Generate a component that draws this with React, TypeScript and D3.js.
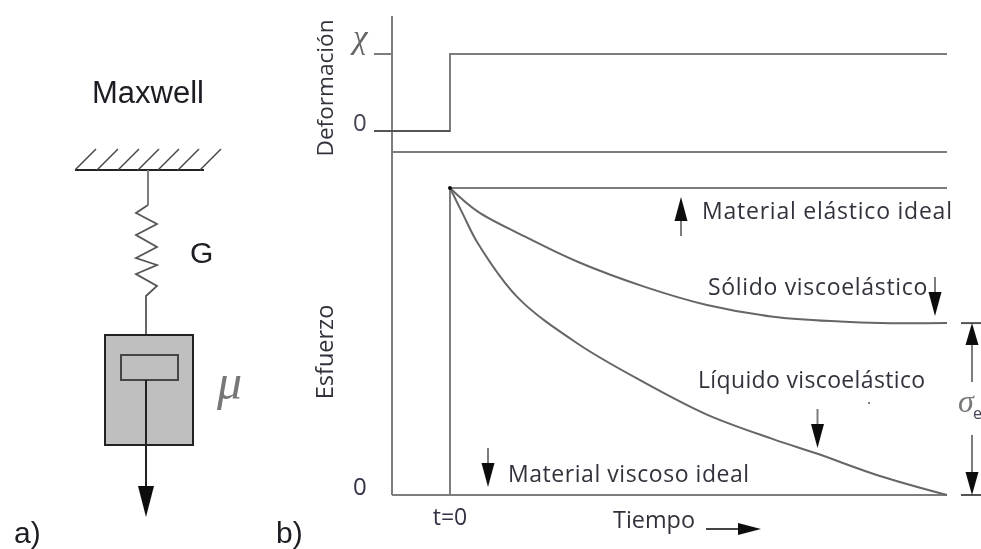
import React from 'react';
import * as d3 from 'd3';

const width = 981;
const height = 549;

// stress curves (time 0..1, stress 0..1)
const solidTime = [0, 0.056, 0.157, 0.258, 0.392, 0.517, 0.65, 0.785, 0.865, 1];
const solidStress = [1, 0.923, 0.837, 0.759, 0.678, 0.619, 0.581, 0.565, 0.56, 0.56];
const liquidTime = [0, 0.026, 0.056, 0.137, 0.258, 0.386, 0.517, 0.65, 0.738, 0.865, 1];
const liquidStress = [1, 0.915, 0.82, 0.642, 0.492, 0.371, 0.262, 0.182, 0.135, 0.062, 0];

// step input
const strainTime = [-0.153, 0, 0, 1];
const strainValue = [0, 0, 1, 1];

const elasticTime = [0, 0, 1];
const elasticStress = [0, 1, 1];

const sigmaE = 0.56;

// Maxwell drawing, in its own units (offset from the rod, distance below the wall)
const springOffset = [0, -12, 9, -12, 9, -12, 9, -12, 9, -2, -2];
const springDrop = [35, 43, 54, 65, 77, 88, 95, 104, 116, 126, 165];
const hatchStart = [-73, -51, -30, -10, 10, 30, 52];

const t = d3.scaleLinear().domain([0, 1]).range([450, 947]);
const strainY = d3.scaleLinear().domain([0, 1]).range([131, 54]);
const stressY = d3.scaleLinear().domain([0, 1]).range([495, 188]);
const dx = d3.scaleLinear().domain([0, 1]).range([148, 149]);
const dy = d3.scaleLinear().domain([0, 1]).range([170, 171]);

const stressLine = d3
  .line<[number, number]>()
  .x(d => t(d[0]))
  .y(d => stressY(d[1]));
const strainLine = d3
  .line<[number, number]>()
  .x(d => t(d[0]))
  .y(d => strainY(d[1]));
const schemeLine = d3
  .line<[number, number]>()
  .x(d => dx(d[0]))
  .y(d => dy(d[1]));

const gray = '#7d7d7d';
const ink = '#33333d';
const uiFont = '"Open Sans", sans-serif';
const armFont = '"Liberation Sans", Arial, sans-serif';
const mathFont = '"Liberation Serif", serif';

// arrow pointing to (x, tipY); dir 1 = down, -1 = up
function VArrow({ x, tipY, dir, head = 24, half = 6.5, tail = 15 }: any) {
  const base = tipY - dir * head;
  return (
    <g>
      <line x1={x} x2={x} y1={base} y2={base - dir * tail} stroke={gray} strokeWidth={2} />
      <path d={`M${x - half},${base}L${x + half},${base}L${x},${tipY}Z`} fill="#111" />
    </g>
  );
}

export default function App() {
  const chartLeft = 392;
  const chartRight = t(1);
  const zeroY = stressY(0);
  const sigmaY = stressY(sigmaE);
  const elasticPts = elasticTime.map((d, i) => [d, elasticStress[i]] as [number, number]);
  const solidPts = solidTime.map((d, i) => [d, solidStress[i]] as [number, number]);
  const liquidPts = liquidTime.map((d, i) => [d, liquidStress[i]] as [number, number]);
  const strainPts = strainTime.map((d, i) => [d, strainValue[i]] as [number, number]);
  const springPts = springOffset.map((d, i) => [d, springDrop[i]] as [number, number]);

  return (
    <svg
      width={width}
      height={height}
      style={{ position: 'absolute', left: 0, top: 0, background: '#fff' }}
    >
      <defs>
        <filter id="soft" x="0" y="0" width="100%" height="100%">
          <feGaussianBlur stdDeviation="0.55" />
        </filter>
      </defs>
      <g filter="url(#soft)">
        {/* a) Maxwell */}
        <text x={92} y={103} fontFamily={armFont} fontSize={31} fill="#1c1c24">Maxwell</text>
        <line x1={dx(-73)} x2={dx(56)} y1={dy(0)} y2={dy(0)} stroke="#222" strokeWidth={2} />
        {hatchStart.map(h => (
          <line key={h} x1={dx(h)} x2={dx(h + 21)} y1={dy(0)} y2={dy(-21)} stroke="#444" strokeWidth={1.5} />
        ))}
        <path d={schemeLine([[0, 0], [0, 35]] as [number, number][]) || ''} fill="none" stroke={gray} strokeWidth={2} />
        <path d={schemeLine(springPts) || ''} fill="none" stroke="#555" strokeWidth={1.8} />
        <text x={190} y={263} fontFamily={armFont} fontSize={30} fill="#1c1c24">G</text>
        <rect x={dx(-43)} y={dy(165)} width={88} height={110} fill="#bfbfbf" stroke="#222" strokeWidth={2} />
        <rect x={dx(-27)} y={dy(185)} width={57} height={25} fill="#bfbfbf" stroke="#444" strokeWidth={2} />
        <line x1={dx(-2)} x2={dx(-2)} y1={dy(210)} y2={dy(320)} stroke="#222" strokeWidth={2} />
        <path d={`M${dx(-10)},${dy(316)}L${dx(6)},${dy(316)}L${dx(-2)},${dy(347)}Z`} fill="#111" />
        <text x={217} y={399} fontFamily={mathFont} fontStyle="italic" fontSize={50} fill="#777">μ</text>
        <text x={14} y={543} fontFamily={armFont} fontSize={30} fill="#1c1c24">a)</text>
        <text x={276} y={543} fontFamily={armFont} fontSize={30} fill="#1c1c24">b)</text>

        {/* b) axes */}
        <line x1={chartLeft} x2={chartLeft} y1={16} y2={zeroY} stroke={gray} strokeWidth={2} />
        <line x1={chartLeft} x2={chartRight} y1={152} y2={152} stroke={gray} strokeWidth={2} />
        <line x1={chartLeft} x2={chartRight} y1={zeroY} y2={zeroY} stroke={gray} strokeWidth={2} />
        <line x1={374} x2={chartLeft} y1={strainY(1)} y2={strainY(1)} stroke={gray} strokeWidth={2} />
        <path d={strainLine(strainPts) || ''} fill="none" stroke={gray} strokeWidth={2} />
        <line x1={374} x2={t(0)} y1={strainY(0)} y2={strainY(0)} stroke="#555" strokeWidth={2} />

        <path d={stressLine.curve(d3.curveLinear)(elasticPts) || ''} fill="none" stroke={gray} strokeWidth={2} />
        <path d={stressLine.curve(d3.curveCatmullRom)(solidPts) || ''} fill="none" stroke="#666" strokeWidth={2} />
        <path d={stressLine.curve(d3.curveCatmullRom)(liquidPts) || ''} fill="none" stroke="#666" strokeWidth={2} />
        <circle cx={t(0)} cy={stressY(1)} r={2} fill="#111" />

        {/* axis text */}
        <text transform="translate(333,88) rotate(-90)" textAnchor="middle" fontFamily={uiFont} fontSize={22.6} fill={ink}>Deformación</text>
        <text transform="translate(333,352) rotate(-90)" textAnchor="middle" fontFamily={uiFont} fontSize={23.5} fill={ink}>Esfuerzo</text>
        <text x={353} y={48} fontFamily={mathFont} fontStyle="italic" fontSize={33} fill="#666">χ</text>
        <text x={353} y={131} fontFamily={uiFont} fontSize={24} fill="#445">0</text>
        <text x={353} y={495} fontFamily={uiFont} fontSize={24} fill="#334">0</text>
        <text x={t(0)} y={525} textAnchor="middle" fontFamily={uiFont} fontSize={23} fill="#334">t=0</text>
        <text x={613} y={528} fontFamily={uiFont} fontSize={23.4} fill={ink}>Tiempo</text>
        <line x1={706} x2={742} y1={529} y2={529} stroke="#444" strokeWidth={2} />
        <path d="M738,523L761,529L738,535Z" fill="#111" />

        {/* curve labels */}
        <text x={702} y={219} fontFamily={uiFont} fontSize={23} letterSpacing={0.77} fill={ink}>Material elástico ideal</text>
        <text x={708} y={295} fontFamily={uiFont} fontSize={23} letterSpacing={0.68} fill={ink}>Sólido viscoelástico</text>
        <text x={698} y={388} fontFamily={uiFont} fontSize={23} letterSpacing={0.35} fill={ink}>Líquido viscoelástico</text>
        <text x={508} y={482} fontFamily={uiFont} fontSize={23} letterSpacing={0.55} fill={ink}>Material viscoso ideal</text>
        <VArrow x={681} tipY={197} dir={-1} />
        <VArrow x={935} tipY={316} dir={1} />
        <VArrow x={817.5} tipY={448} dir={1} />
        <VArrow x={488} tipY={487} dir={1} />
        <circle cx={869} cy={403} r={1} fill="#555" />

        {/* sigma_e bracket */}
        <line x1={961} x2={981} y1={sigmaY} y2={sigmaY} stroke="#555" strokeWidth={2} />
        <line x1={961} x2={981} y1={zeroY} y2={zeroY} stroke="#555" strokeWidth={2} />
        <VArrow x={972} tipY={sigmaY} dir={-1} head={22} tail={37} />
        <VArrow x={972} tipY={zeroY} dir={1} head={23} tail={37} />
        <text x={958} y={412} fontFamily={mathFont} fontStyle="italic" fontSize={32} fill="#777">σ</text>
        <text x={973} y={419} fontFamily={uiFont} fontSize={16} fill="#445">e</text>
      </g>
    </svg>
  );
}
